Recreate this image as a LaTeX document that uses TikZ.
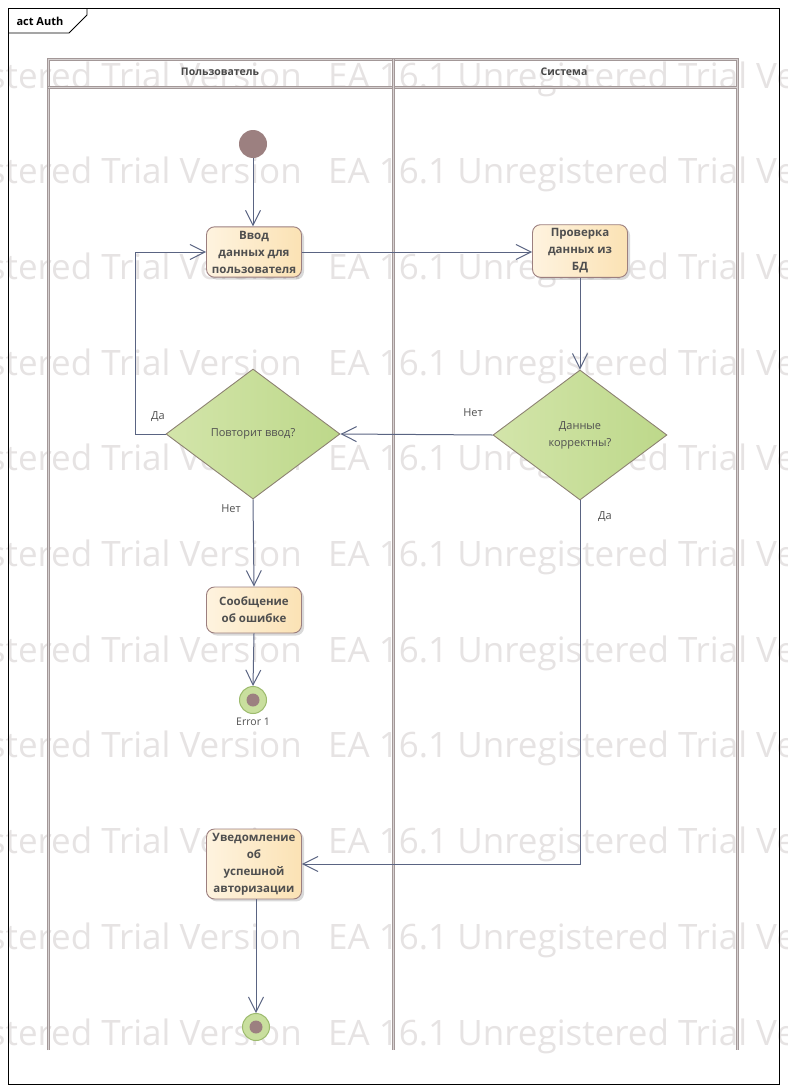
\documentclass[tikz,border=0pt]{standalone}
\usepackage{fontspec}
\setmainfont{Open Sans}
\usepackage{tikz}
\usetikzlibrary{arrows.meta, shapes.geometric, shadows, positioning}
\definecolor{edgeclr}{HTML}{5A6482}
\definecolor{actborder}{HTML}{9C7F7F}
\definecolor{actleft}{HTML}{FEF3DF}
\definecolor{actright}{HTML}{FBE2B4}
\definecolor{acttext}{HTML}{4F4F4F}
\definecolor{decborder}{HTML}{8D8272}
\definecolor{decleft}{HTML}{D3E5AA}
\definecolor{decright}{HTML}{BDD88A}
\definecolor{labeltext}{HTML}{505050}
\definecolor{laneclr}{HTML}{A39898}
\definecolor{lanelight}{HTML}{D6D0D0}
\definecolor{wmclr}{HTML}{E6E3E3}
\definecolor{initclr}{HTML}{9C8080}
\definecolor{finfill}{HTML}{C9DF9E}
\definecolor{finborder}{HTML}{9DBB6E}

\begin{document}
\begin{tikzpicture}[x=1pt,y=-1pt,
    action/.style={rectangle, rounded corners=8pt, draw=actborder, line width=0.9pt,
        left color=actleft, right color=actright, minimum width=95pt, minimum height=46pt,
        inner xsep=2pt, inner ysep=4pt, align=center,
        font=\fontsize{11.5}{17}\selectfont\bfseries, text=acttext,
        drop shadow={shadow xshift=2.5pt, shadow yshift=-2.5pt, opacity=0.3, fill=gray}},
    decision/.style={diamond, draw=decborder, line width=0.9pt, left color=decleft,
        right color=decright, minimum width=174pt, minimum height=130pt, inner sep=0pt,
        align=center, font=\fontsize{11}{17}\selectfont, text=labeltext},
    flow/.style={draw=edgeclr, line width=1pt, -{Straight Barb[length=15pt, width=15pt]}},
    guard/.style={font=\fontsize{11}{13}\selectfont, text=labeltext},
    lanelabel/.style={font=\fontsize{10.5}{12}\selectfont\bfseries, text=black!72},
    lane/.style={draw=laneclr, double=lanelight, double distance=0.8pt, line width=1.1pt},
    watermark/.style={font=\fontsize{35}{35}\selectfont, text=wmclr, inner sep=0pt}
    ]

    \useasboundingbox (0,0) rectangle (787,1092);

    % Водяной знак
    \begin{scope}
        \clip (0,0) rectangle (787,1092);
        \foreach \r in {0,...,10} {
            \node[watermark, anchor=base east] (wmL\r) at (302,{88+95.7*\r}) {Unregistered Trial Version};
            \node[watermark, anchor=base west] (wmR\r) at (328,{88+95.7*\r}) {EA 16.1 Unregistered Trial Version};
        }
    \end{scope}

    % Рамка диаграммы
    \draw[line width=0.8pt] (8,8) rectangle (779,1084);
    \draw[line width=0.8pt] (8,33) -- (69,33) -- (87,15) -- (87,8);
    \node[anchor=west, font=\fontsize{11}{12}\selectfont\bfseries] (title) at (13,21) {act Auth};

    % Дорожки
    \draw[lane] (48,1050) -- (48,59) -- (737,59) -- (737,1050);
    \draw[lane] (48,87) -- (737,87);
    \draw[lane] (393,59) -- (393,1050);
    \node[lanelabel] (laneuser) at (220,72) {Пользователь};
    \node[lanelabel] (lanesys) at (564,72) {Система};

    % Узлы
    \node[circle, fill=initclr, minimum size=28pt, inner sep=0pt] (start) at (253,144) {};
    \node[action] (enter) at (254,252) {Ввод\\данных для\\пользователя};
    \node[action] (check) at (580,251) {Проверка\\данных из\\БД};
    \node[decision] (valid) at (580,435) {Данные\\корректны?};
    \node[decision] (retry) at (253,434) {Повторит ввод?};
    \node[action] (errmsg) at (254,610) {Сообщение\\об ошибке};
    \node[circle, draw=finborder, line width=1pt, fill=finfill, minimum size=27pt, inner sep=0pt] (errend) at (253,700) {};
    \node[circle, fill=initclr, minimum size=13pt, inner sep=0pt] (errdot) at (errend) {};
    \node[font=\fontsize{10.5}{12}\selectfont, text=labeltext] (errlabel) at (253,722) {Error 1};
    \node[action] (notify) at (254,864) {Уведомление\\об\\успешной\\авторизации};
    \node[circle, draw=finborder, line width=1pt, fill=finfill, minimum size=27pt, inner sep=0pt] (finish) at (256,1027) {};
    \node[circle, fill=initclr, minimum size=13pt, inner sep=0pt] (findot) at (finish) {};

    % Переходы
    \draw[flow] (start) -- (start |- enter.north);
    \draw[flow] (enter.east) -- (enter.east -| check.west);
    \draw[flow] (check.south) -- (valid.north);
    \draw[flow] (valid.west) -- (retry.east);
    \draw[flow] (retry.west) -- ++(-30,0) |- (enter.west);
    \draw[flow] (retry.south) -- (errmsg.north);
    \draw[flow] (errmsg.south) -- (errend.north);
    \draw[flow] (valid.south) |- (notify.east);
    \draw[flow] (notify.south -| finish.north) -- (finish.north);

    % Условия
    \node[guard] (yesloop) at (158,417) {Да};
    \node[guard] (noretry) at (231,509) {Нет};
    \node[guard] (novalid) at (473,413) {Нет};
    \node[guard] (yesvalid) at (605,517) {Да};

\end{tikzpicture}
\end{document}
